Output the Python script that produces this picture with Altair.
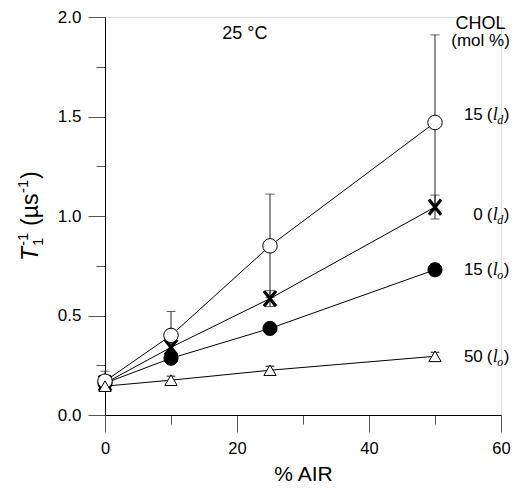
import altair as alt
import pandas as pd

# ---- data ----
air = [0, 10, 25, 50]
series_names = ["15 ld", "0 ld", "15 lo", "50 lo"]
chol15_ld = [0.17, 0.40, 0.85, 1.47]
chol15_ld_err = [0.05, 0.12, 0.26, 0.44]
chol0_ld = [0.16, 0.34, 0.585, 1.045]
chol0_ld_err = [0.03, 0.03, 0.04, 0.06]
chol15_lo = [0.16, 0.285, 0.435, 0.73]
chol15_lo_err = [0.02, 0.02, 0.02, 0.03]
chol50_lo = [0.145, 0.175, 0.225, 0.295]
chol50_lo_err = [0.02, 0.02, 0.02, 0.02]

label_num = ["15", "0", "15", "50"]
label_sub = ["d", "d", "o", "o"]
label_y = [1.51, 1.005, 0.73, 0.29]
label_x = [57.55, 57.55, 57.55, 57.55]

rows = []
for name, ys, es in zip(series_names,
                        [chol15_ld, chol0_ld, chol15_lo, chol50_lo],
                        [chol15_ld_err, chol0_ld_err, chol15_lo_err, chol50_lo_err]):
    for x, y, e in zip(air, ys, es):
        rows.append({"series": name, "x": x, "y": y, "lo": y - e, "hi": y + e})
df = pd.DataFrame(rows)

lab = pd.DataFrame({"num": label_num, "sub": label_sub, "x": label_x, "y": label_y})

SANS = "Liberation Sans"
SERIF = "Liberation Serif"

xscale = alt.Scale(domain=[0, 60], nice=False, zero=False)
yscale = alt.Scale(domain=[0, 2], nice=False, zero=False)

x_axis = alt.Axis(
    values=[0, 10, 20, 30, 40, 50, 60],
    labelExpr="datum.value % 20 === 0 ? datum.label : ''",
    tickSize={"condition": {"test": "datum.value % 20 === 0", "value": 17}, "value": 9},
    grid=False, domainColor="black", tickColor="#555", labelColor="black",
    labelFont=SANS, labelFontSize=16.5, labelPadding=8, labelFlush=False,
    title="% AIR", titleFont=SANS, titleFontSize=21, titleFontWeight="normal",
    titleColor="black", titleBaseline="middle", titleY=59,
)
y_axis = alt.Axis(
    values=[i * 0.25 for i in range(9)],
    format=".1f",
    labelExpr="round(datum.value*4) % 2 === 0 ? datum.label : ''",
    tickSize={"condition": {"test": "round(datum.value*4) % 2 === 0", "value": 17}, "value": 9},
    grid=False, domainColor="black", tickColor="#555", labelColor="black",
    labelFont=SANS, labelFontSize=17, labelPadding=7, labelFlush=False,
    title=None,
)

def X(field="x"):
    return alt.X(f"{field}:Q", scale=xscale, axis=x_axis)

def Y(field="y"):
    return alt.Y(f"{field}:Q", scale=yscale, axis=y_axis)

base = alt.Chart(df)

lines = base.mark_line(color="black", strokeWidth=1).encode(
    x=X(), y=Y(), detail="series:N",
)

err = base.mark_errorbar(ticks={"size": 9, "color": "#222"}, color="#222", thickness=1).encode(
    x=X(), y=Y("lo"), y2="hi:Q",
)

def pts(name, **mk):
    return base.transform_filter(alt.datum.series == name).mark_point(**mk).encode(
        x=X(), y=Y(),
    )

p_x = pts("0 ld", shape="M-0.8,-1L0.8,1M0.8,-1L-0.8,1", size=230, stroke="black",
          strokeWidth=3.2, filled=False, opacity=1)
p_fill = pts("15 lo", shape="circle", size=200, filled=True, fill="black", stroke="black",
             strokeWidth=1, opacity=1)
p_open = pts("15 ld", shape="circle", size=210, filled=False, fill="white", fillOpacity=1,
             stroke="black", strokeWidth=1, opacity=1)
p_tri = pts("50 lo", shape="triangle-up", size=150, filled=False, fill="white", fillOpacity=1,
            stroke="black", strokeWidth=1, opacity=1)
err_tri = base.transform_filter(alt.datum.series == "50 lo").mark_errorbar(
    ticks={"size": 8, "color": "#222"}, color="#222", thickness=1).encode(
    x=X(), y=Y("lo"), y2="hi:Q",
)

lb = alt.Chart(lab)
t_num = lb.mark_text(font=SANS, fontSize=17, align="right", baseline="middle", dx=-2,
                     color="black").encode(text="num:N", x=X(), y=Y())
t_open = lb.mark_text(font=SANS, fontSize=17, align="left", baseline="middle", dx=2,
                      color="black").encode(text=alt.value("("), x=X(), y=Y())
t_l = lb.mark_text(font=SERIF, fontSize=18, fontStyle="italic", align="left", baseline="middle",
                   dx=8, color="black").encode(text=alt.value("l"), x=X(), y=Y())
t_sub = lb.mark_text(font=SERIF, fontSize=12, fontStyle="italic", align="left", baseline="middle",
                     dx=12.5, dy=5, color="black").encode(text="sub:N", x=X(), y=Y())
t_close = lb.mark_text(font=SANS, fontSize=17, align="left", baseline="middle", dx=19,
                       color="black").encode(text=alt.value(")"), x=X(), y=Y())

notes = pd.DataFrame({"t": ["CHOL", "(mol %)", "25 °C"], "x": [56.9, 56.9, 21.2],
                      "y": [1.967, 1.877, 1.915], "fs": [18, 17, 18]})
t_notes = alt.Chart(notes).mark_text(font=SANS, align="center", baseline="middle",
                                     color="black").encode(
    x=X(), y=Y(), text="t:N", size=alt.Size("fs:Q", scale=None, legend=None))

# ---- y-axis title built from pieces (italic T, sub/superscripts), rotated ----
title_pieces = [
    # text, dx along text, dy (sub/sup shift), size, style
    ("T", 0, 0, 23, "italic"),
    ("1", 15, 7, 15, "normal"),
    ("-1", 15, -8, 15, "normal"),
    ("(µs", 35, 0, 23, "normal"),
    ("-1", 68, -8, 15, "normal"),
    (")", 82, 0, 23, "normal"),
]
title_layers = []
for txt, ddx, ddy, fs, st in title_pieces:
    title_layers.append(
        alt.Chart(pd.DataFrame({"a": [0]})).mark_text(
            font=SANS, fontSize=fs, fontStyle=st, angle=270, align="left",
            baseline="middle", dx=ddx, dy=ddy, color="black",
        ).encode(x=alt.value(-74), y=alt.value(244), text=alt.value(txt))
    )

chart = alt.layer(
    lines, err, err_tri, p_x, p_fill, p_open, p_tri,
    t_num, t_open, t_l, t_sub, t_close, t_notes, *title_layers,
).properties(
    width=396, height=398,
    autosize=alt.AutoSizeParams(type="none"),
    padding={"left": 97, "top": 9, "right": 10, "bottom": 70},
).configure_view(strokeWidth=0).configure(background="white")

chart.save("out.html", embed_options={"renderer": "svg", "actions": False})
